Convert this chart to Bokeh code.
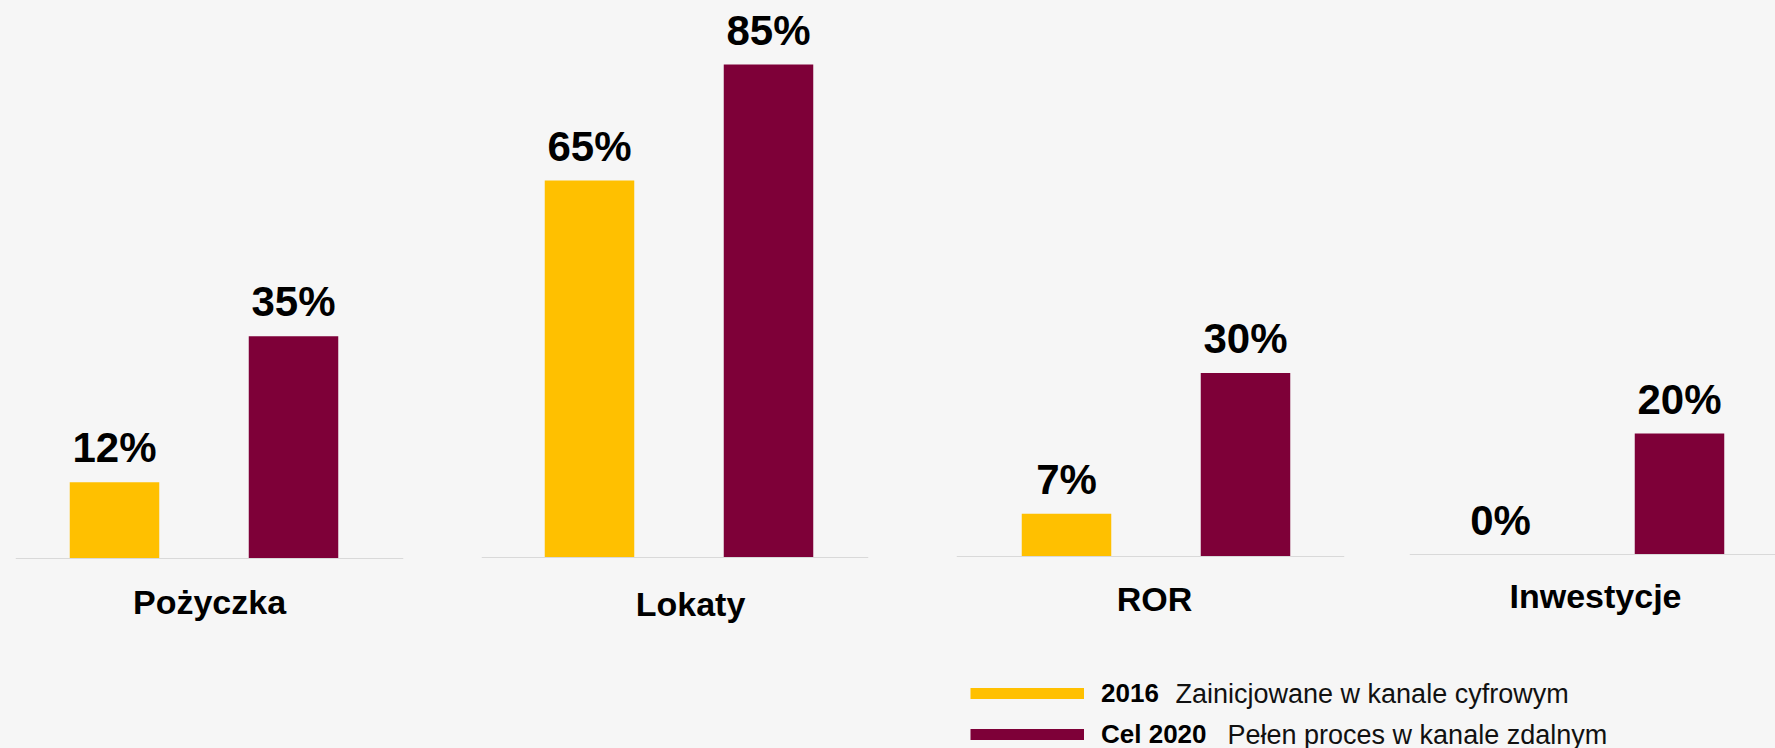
from bokeh.plotting import figure
from bokeh.models import ColumnDataSource, Range1d, Span, LabelSet, Label, Legend, LegendItem
from bokeh.layouts import row, column
from bokeh.core.properties import value
from bokeh.embed import file_html
from bokeh.resources import INLINE

# ---------------- data ----------------
categories = ["Pożyczka", "Lokaty", "ROR", "Inwestycje"]
series_names = ["2016", "Cel 2020"]
series_desc = ["Zainicjowane w kanale cyfrowym", "Pełen proces w kanale zdalnym"]
values_2016 = [12, 65, 7, 0]
values_2020 = [35, 85, 30, 20]
colors = ["#FFC000", "#7E0038"]

# ---------------- style / layout ----------------
FONT = "Liberation Sans"
BG = "#f6f6f6"
BASE_COLOR = "#d9d9d9"
TOP_H = 673
UNIT = 179.0  # px between the two bars of a panel

panels = [
    dict(w=442, bl=15, br=39, b0=99, yb=558, s=6.35, cx=95, cy=601),
    dict(w=470, bl=39, br=44, b0=108, yb=557, s=5.80, cx=101, cy=603),
    dict(w=464, bl=44, br=32, b0=110, yb=556, s=6.12, cx=88, cy=598),
    dict(w=399, bl=33, br=0, b0=91, yb=554, s=6.05, cx=95, cy=595),
]

figs = []
for i, cat in enumerate(categories):
    cfg = panels[i]
    frame_w = cfg["w"] - cfg["bl"] - cfg["br"]
    x_start = -cfg["b0"] / UNIT
    x_end = x_start + frame_w / UNIT
    p = figure(width=cfg["w"], height=TOP_H, output_backend="svg", toolbar_location=None,
               x_range=Range1d(x_start, x_end),
               y_range=Range1d(-(TOP_H - cfg["yb"]) / cfg["s"], cfg["yb"] / cfg["s"]),
               min_border_left=cfg["bl"], min_border_right=cfg["br"],
               min_border_top=0, min_border_bottom=0)
    p.axis.visible = False
    p.grid.visible = False
    p.outline_line_color = None
    p.background_fill_color = BG
    p.border_fill_color = BG

    vals = [values_2016[i], values_2020[i]]
    src = ColumnDataSource(dict(x=list(range(len(series_names))), top=vals,
                                color=colors, text=[f"{v}%" for v in vals]))
    p.vbar(x="x", top="top", width=0.5, color="color", line_color=None, source=src)
    p.add_layout(Span(location=0, dimension="width", line_color=BASE_COLOR, line_width=1))
    p.add_layout(LabelSet(x="x", y="top", text="text", source=src, y_offset=20,
                          text_align="center", text_baseline="alphabetic",
                          text_font=value(FONT), text_font_style="bold",
                          text_font_size="42px", text_color="#000000"))
    p.add_layout(Label(x=cfg["cx"] / UNIT, y=-(cfg["cy"] - cfg["yb"]) / cfg["s"], text=cat,
                       text_align="center", text_baseline="middle",
                       text_font=FONT, text_font_style="bold", text_font_size="34px",
                       text_color="#000000"))
    figs.append(p)

# ---------------- legend strip ----------------
LW, LH = 1775, 748 - TOP_H
lg = figure(width=LW, height=LH, output_backend="svg", toolbar_location=None,
            x_range=Range1d(0, LW), y_range=Range1d(0, LH), min_border=0)
lg.axis.visible = False
lg.grid.visible = False
lg.outline_line_color = None
lg.background_fill_color = BG
lg.border_fill_color = BG

items = []
for name, col, vals in zip(series_names, colors, [values_2016, values_2020]):
    src = ColumnDataSource(dict(x=list(range(len(categories))), y=vals))
    r = lg.line(x="x", y="y", source=src, line_color=col, line_width=11)
    r.visible = False
    items.append(LegendItem(label=name, renderers=[r]))
legend = Legend(items=items, location=(970, -2), orientation="vertical",
                glyph_width=114, glyph_height=32, label_height=32, spacing=9,
                padding=0, margin=0, label_standoff=17, click_policy="none",
                inactive_fill_alpha=0,
                border_line_color=None, background_fill_alpha=0,
                label_text_font=FONT, label_text_font_style="bold",
                label_text_font_size="26px", label_text_color="#000000")
lg.add_layout(legend)

desc_pos = [(1175, 55), (1227, 14)]
for (dx, dy), d in zip(desc_pos, series_desc):
    lg.add_layout(Label(x=dx, y=dy, text=d, text_baseline="middle", text_align="left",
                        text_font=FONT, text_font_size="27px", text_color="#111111"))

layout = column(row(*figs, spacing=0), lg, spacing=0)
layout.styles = {"background-color": BG}
open("out.html", "w").write(file_html(layout, INLINE))
